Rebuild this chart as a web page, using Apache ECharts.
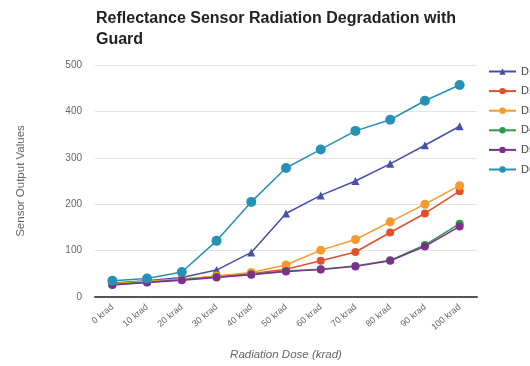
<!DOCTYPE html>
<html>
<head>
<meta charset="utf-8">
<script src="https://cdn.jsdelivr.net/npm/echarts@6/dist/echarts.min.js"></script>
<style>html,body{margin:0;padding:0;background:#fff}#chart{width:530px;height:366px}</style>
</head>
<body>
<div id="chart"></div>
<script>
// Radiation dose steps along the x axis
const categories = ['0 krad', '10 krad', '20 krad', '30 krad', '40 krad', '50 krad', '60 krad', '70 krad', '80 krad', '90 krad', '100 krad'];
const seriesNames = ['D1', 'D2', 'D3', 'D4', 'D5', 'D6'];
// Sensor output per device at each dose
const d1 = [30, 35, 42, 58, 96, 180, 219, 250, 287, 327, 368];
const d2 = [28, 33, 38, 44, 50, 60, 78, 97, 139, 180, 228];
const d3 = [29, 34, 39, 45, 53, 69, 101, 124, 162, 200, 240];
const d4 = [27, 32, 37, 43, 49, 56, 60, 67, 79, 112, 158];
const d5 = [26, 31, 36, 42, 48, 55, 59, 66, 78, 109, 152];
const d6 = [35, 40, 54, 121, 205, 278, 318, 358, 382, 423, 457];
const yTicks = [0, 100, 200, 300, 400, 500];

const colors = ['#4650a8', '#e0502a', '#f59a2c', '#2e9a4e', '#7e2f8e', '#2591b5'];
const symbols = ['triangle', 'circle', 'circle', 'circle', 'circle', 'circle'];
const sizes = [8, 8, 9, 8, 8, 10];
const values = [d1, d2, d3, d4, d5, d6];

const chart = echarts.init(document.getElementById('chart'));
chart.setOption({
  animation: false,
  title: {
    text: 'Reflectance Sensor Radiation Degradation with\nGuard',
    left: 91, top: 3,
    textStyle: { fontFamily: 'Liberation Sans', fontSize: 16, fontWeight: 'bold', color: '#222', lineHeight: 21 }
  },
  legend: {
    orient: 'vertical', left: 483, top: 61,
    itemWidth: 27, itemHeight: 8, itemGap: 8.6,
    textStyle: { fontFamily: 'Liberation Sans', fontSize: 11, color: '#444' },
    data: seriesNames
  },
  grid: { left: 95, right: 53, top: 65, bottom: 68 },
  xAxis: {
    type: 'category', data: categories, boundaryGap: true,
    name: 'Radiation Dose (krad)', nameLocation: 'middle', nameGap: 52,
    nameTextStyle: { fontFamily: 'Liberation Sans', fontSize: 11.5, fontStyle: 'italic', color: '#666' },
    axisLine: { lineStyle: { color: '#555', width: 2 } },
    axisTick: { show: false },
    axisLabel: { rotate: 40, fontFamily: 'Liberation Sans', fontSize: 9, color: '#666', interval: 0, margin: 9 }
  },
  yAxis: {
    type: 'value', min: yTicks[0], max: yTicks[yTicks.length - 1], interval: 100,
    name: 'Sensor Output Values', nameLocation: 'middle', nameGap: 68,
    nameTextStyle: { fontFamily: 'Liberation Sans', fontSize: 11.5, color: '#666' },
    axisLine: { show: false }, axisTick: { show: false },
    axisLabel: { fontFamily: 'Liberation Sans', fontSize: 10, color: '#666', margin: 13 },
    splitLine: { lineStyle: { color: '#e4e4e4', width: 1 } }
  },
  series: seriesNames.map((n, i) => ({
    name: n, type: 'line', data: values[i],
    symbol: symbols[i], symbolSize: sizes[i],
    itemStyle: { color: colors[i] },
    lineStyle: { color: colors[i], width: 1.5 }
  }))
});
</script>
</body>
</html>
